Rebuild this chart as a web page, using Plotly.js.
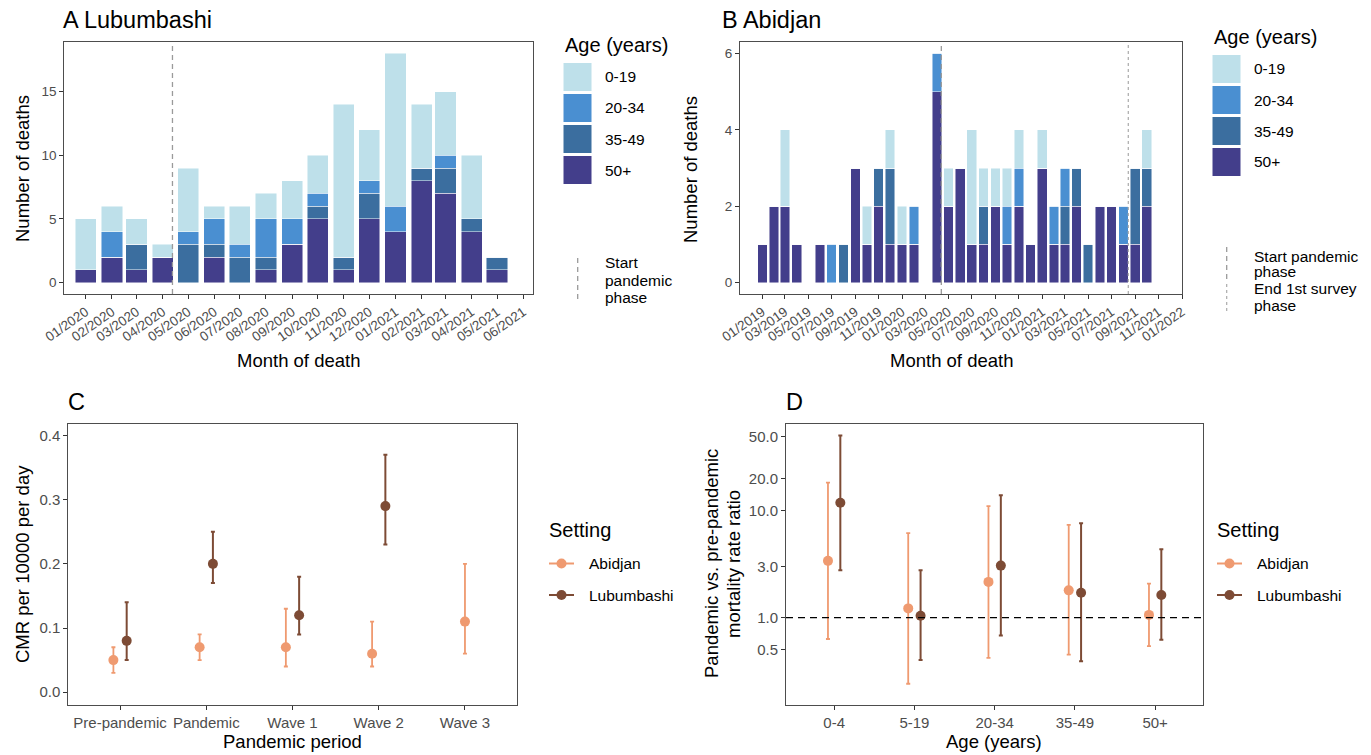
<!DOCTYPE html>
<html>
<head>
<meta charset="utf-8">
<script src="https://cdn.plot.ly/plotly-3.0.1.min.js"></script>
<style>html,body{margin:0;padding:0;background:#fff;}#chart{width:1371px;height:755px;}</style>
</head>
<body>
<div id="chart"></div>
<script>
// ---------- Data ----------
const ageGroups = ['0-19', '20-34', '35-49', '50+'];
const ageColors = ['#BEE0EA', '#4A8FD1', '#3B6E9F', '#433E8B'];

// Panel A: Lubumbashi monthly deaths
const monthsA = ['2020-01-01','2020-02-01','2020-03-01','2020-04-01','2020-05-01','2020-06-01','2020-07-01','2020-08-01','2020-09-01','2020-10-01','2020-11-01','2020-12-01','2021-01-01','2021-02-01','2021-03-01','2021-04-01','2021-05-01'];
const lub_0_19  = [4,2,2,1,5,1,3,2,3,3,12,4,12,5,5,5,0];
const lub_20_34 = [0,2,0,0,1,2,1,3,2,1,0,1,2,0,1,0,0];
const lub_35_49 = [0,0,2,0,3,1,2,1,0,1,1,2,0,1,2,1,1];
const lub_50p   = [1,2,1,2,0,2,0,1,3,5,1,5,4,8,7,4,1];

// Panel B: Abidjan monthly deaths
const monthsB = ['2019-01-01','2019-02-01','2019-03-01','2019-04-01','2019-05-01','2019-06-01','2019-07-01','2019-08-01','2019-09-01','2019-10-01','2019-11-01','2019-12-01','2020-01-01','2020-02-01','2020-03-01','2020-04-01','2020-05-01','2020-06-01','2020-07-01','2020-08-01','2020-09-01','2020-10-01','2020-11-01','2020-12-01','2021-01-01','2021-02-01','2021-03-01','2021-04-01','2021-05-01','2021-06-01','2021-07-01','2021-08-01','2021-09-01','2021-10-01'];
const abi_0_19  = [0,0,2,0,0,0,0,0,0,1,0,1,1,0,0,0,1,0,3,1,1,1,1,0,1,0,0,0,0,0,0,0,0,1];
const abi_20_34 = [0,0,0,0,0,0,1,0,0,0,0,0,0,1,0,1,0,0,0,0,0,1,1,0,0,1,1,0,0,0,0,1,0,0];
const abi_35_49 = [0,0,0,0,0,0,0,1,0,0,1,2,0,0,0,0,0,0,0,1,0,0,0,0,0,0,1,1,1,0,0,0,2,1];
const abi_50p   = [1,2,2,1,0,1,0,0,3,1,2,1,1,1,0,5,2,3,1,1,2,1,2,1,3,1,1,2,0,2,2,1,1,2];

const startPandemic = '2020-04-12 12:00';
const endSurvey1 = '2021-08-13 18:00';

// Panel C: CMR per 10000 per day
const periods = ['Pre-pandemic','Pandemic','Wave 1','Wave 2','Wave 3'];
const abiCMR    = [0.05, 0.07, 0.07, 0.06, 0.11];
const abiCMRlo  = [0.03, 0.05, 0.04, 0.04, 0.06];
const abiCMRhi  = [0.07, 0.09, 0.13, 0.11, 0.20];
const lubCMR    = [0.08, 0.20, 0.12, 0.29, null];
const lubCMRlo  = [0.05, 0.17, 0.09, 0.23, null];
const lubCMRhi  = [0.14, 0.25, 0.18, 0.37, null];

// Panel D: mortality rate ratios
const agesD = ['0-4','5-19','20-34','35-49','50+'];
const abiRR    = [3.4, 1.22, 2.16, 1.80, 1.06];
const abiRRlo  = [0.63, 0.24, 0.42, 0.45, 0.54];
const abiRRhi  = [18.4, 6.2, 11.1, 7.4, 2.08];
const lubRR    = [11.9, 1.04, 3.07, 1.71, 1.63];
const lubRRlo  = [2.78, 0.40, 0.68, 0.39, 0.62];
const lubRRhi  = [50.9, 2.78, 14.0, 7.66, 4.37];

const colAbi = '#EF9A70';
const colLub = '#7D4B35';

// ---------- Helpers ----------
const W = 1371, H = 755;
const PX = v => v / W;
const PY = v => 1 - v / H;
const FONT = 'Liberation Sans, Arial, sans-serif';
const DAY = 86400000;
const dodge = 0.077;

const traces = [];

function addBars(months, series, xa, ya) {
  // stacking order bottom -> top: 50+, 35-49, 20-34, 0-19
  const order = [3, 2, 1, 0];
  order.forEach(i => {
    traces.push({
      type: 'bar', x: months, y: series[i], xaxis: xa, yaxis: ya,
      width: 25 * DAY,
      marker: {color: ageColors[i], line: {color: 'rgba(255,255,255,0.8)', width: 0.6}},
      name: ageGroups[i], hoverinfo: 'x+y+name'
    });
  });
}
addBars(monthsA, [lub_0_19, lub_20_34, lub_35_49, lub_50p], 'x', 'y');
addBars(monthsB, [abi_0_19, abi_20_34, abi_35_49, abi_50p], 'x2', 'y2');

function addPoints(vals, lo, hi, xs, color, thick, xa, ya, name) {
  traces.push({
    type: 'scatter', mode: 'markers', x: xs, y: vals, xaxis: xa, yaxis: ya, name: name,
    marker: {color: color, size: 10},
    error_y: {type: 'data', symmetric: false,
      array: vals.map((v, i) => v == null ? null : hi[i] - v),
      arrayminus: vals.map((v, i) => v == null ? null : v - lo[i]),
      color: color, thickness: thick, width: 2}
  });
}
const xAbiC = periods.map((p, i) => lubCMR[i] == null ? i : i - dodge);
const xLubC = periods.map((p, i) => i + dodge);
addPoints(abiCMR, abiCMRlo, abiCMRhi, xAbiC, colAbi, 1.8, 'x3', 'y3', 'Abidjan');
addPoints(lubCMR, lubCMRlo, lubCMRhi, xLubC, colLub, 2, 'x3', 'y3', 'Lubumbashi');

const xAbiD = agesD.map((a, i) => i - dodge);
const xLubD = agesD.map((a, i) => i + dodge);
addPoints(abiRR, abiRRlo, abiRRhi, xAbiD, colAbi, 1.8, 'x4', 'y4', 'Abidjan');
addPoints(lubRR, lubRRlo, lubRRhi, xLubD, colLub, 2, 'x4', 'y4', 'Lubumbashi');

// ---------- Axes ----------
const axBase = {
  showline: true, mirror: true, linecolor: '#4D4D4D', linewidth: 1,
  ticks: 'outside', ticklen: 4, tickwidth: 1, tickcolor: '#333',
  showgrid: false, zeroline: false,
  tickfont: {family: FONT, size: 13.5, color: '#4D4D4D'}
};
const ax = (o) => Object.assign({}, axBase, o);

const layout = {
  width: W, height: H,
  margin: {l: 0, r: 0, t: 0, b: 0},
  paper_bgcolor: '#fff', plot_bgcolor: '#fff',
  showlegend: false, barmode: 'stack',
  font: {family: FONT, color: '#000'},
  xaxis: ax({domain: [PX(64.3), PX(532.7)], anchor: 'y', type: 'date',
    range: ['2019-12-06 17:00', '2021-06-12 03:00'],
    tick0: '2020-01-01', dtick: 'M1', tickformat: '%m/%Y', tickangle: -35}),
  yaxis: ax({domain: [PY(294), PY(42)], anchor: 'x', range: [-0.9, 18.9],
    tickvals: [0, 5, 10, 15]}),
  xaxis2: ax({domain: [PX(740), PX(1182)], anchor: 'y2', type: 'date',
    range: ['2018-11-03 19:00', '2022-01-01'],
    tick0: '2019-01-01', dtick: 'M2', tickformat: '%m/%Y', tickangle: -35}),
  yaxis2: ax({domain: [PY(294), PY(42)], anchor: 'x2', range: [-0.3, 6.3],
    tickvals: [0, 2, 4, 6]}),
  xaxis3: ax({domain: [PX(68.3), PX(516.7)], anchor: 'y3', range: [-0.6, 4.6],
    tickvals: [0, 1, 2, 3, 4], ticktext: periods, tickangle: 0,
    tickfont: {family: FONT, size: 15, color: '#4D4D4D'}}),
  yaxis3: ax({domain: [PY(705), PY(424)], anchor: 'x3', range: [-0.02, 0.418],
    tickvals: [0, 0.1, 0.2, 0.3, 0.4], tickformat: '.1f',
    tickfont: {family: FONT, size: 15, color: '#4D4D4D'}}),
  xaxis4: ax({domain: [PX(786), PX(1203.3)], anchor: 'y4', range: [-0.6, 4.6],
    tickvals: [0, 1, 2, 3, 4], ticktext: agesD, tickangle: 0,
    tickfont: {family: FONT, size: 15, color: '#4D4D4D'}}),
  yaxis4: ax({domain: [PY(705), PY(424)], anchor: 'x4', type: 'log', range: [-0.819, 1.814],
    tickvals: [0.5, 1, 3, 10, 20, 50], ticktext: [0.5, 1, 3, 10, 20, 50].map(v => v.toFixed(1)),
    tickfont: {family: FONT, size: 15, color: '#4D4D4D'}}),
  shapes: [],
  annotations: []
};

// Reference lines
layout.shapes.push({type: 'line', xref: 'x', yref: 'y domain', x0: startPandemic, x1: startPandemic, y0: 0, y1: 1,
  line: {color: '#9A9A9A', width: 1.3, dash: '5px,4px'}});
layout.shapes.push({type: 'line', xref: 'x2', yref: 'y2 domain', x0: startPandemic, x1: startPandemic, y0: 0, y1: 1,
  line: {color: '#9A9A9A', width: 1.3, dash: '5px,4px'}});
layout.shapes.push({type: 'line', xref: 'x2', yref: 'y2 domain', x0: endSurvey1, x1: endSurvey1, y0: 0, y1: 1,
  line: {color: '#AAAAAA', width: 1.2, dash: 'dot'}});
layout.shapes.push({type: 'line', xref: 'x4 domain', yref: 'y4', x0: 0, x1: 1, y0: 1, y1: 1,
  line: {color: '#000', width: 1.4, dash: '7px,5px'}});

// ---------- Text helpers ----------
function txt(text, x, y, size, opts) {
  layout.annotations.push(Object.assign({
    text: text, xref: 'paper', yref: 'paper', x: PX(x), y: PY(y),
    xanchor: 'left', yanchor: 'middle', showarrow: false,
    font: {family: FONT, size: size, color: '#000'}
  }, opts || {}));
}

// Panel titles
txt('A Lubumbashi', 61, 20, 23.5);
txt('B Abidjan', 720, 20, 23.5);
txt('C', 66, 402, 23.5);
txt('D', 784, 402, 23.5);

// Axis titles
txt('Number of deaths', 22, 169, 18.5, {xanchor: 'center', textangle: -90});
txt('Number of deaths', 690, 169, 18.5, {xanchor: 'center', textangle: -90});
txt('CMR per 10000 per day', 22, 564, 18.5, {xanchor: 'center', textangle: -90});
txt('Pandemic vs. pre-pandemic', 711, 564, 18.5, {xanchor: 'center', textangle: -90});
txt('mortality rate ratio', 733, 564, 18.5, {xanchor: 'center', textangle: -90});
txt('Month of death', 298, 360, 18.5, {xanchor: 'center'});
txt('Month of death', 951, 360, 18.5, {xanchor: 'center'});
txt('Pandemic period', 292, 741, 18.5, {xanchor: 'center'});
txt('Age (years)', 994, 741, 18.5, {xanchor: 'center'});

// Age legends
function ageLegend(x0, titleY, firstTop) {
  txt('Age (years)', x0, titleY, 20);
  ageGroups.forEach((g, i) => {
    const top = firstTop + i * 31;
    layout.shapes.push({type: 'rect', xref: 'paper', yref: 'paper',
      x0: PX(x0), x1: PX(x0 + 29), y0: PY(top + 29), y1: PY(top),
      fillcolor: ageColors[i], line: {color: '#fff', width: 1}});
    txt(g, x0 + 40, top + 14.5, 15.5);
  });
}
ageLegend(563, 45, 62.5);
ageLegend(1212, 37, 54.5);

// line legends
layout.shapes.push({type: 'line', xref: 'paper', yref: 'paper', x0: PX(577.7), x1: PX(577.7), y0: PY(258), y1: PY(303),
  line: {color: '#9A9A9A', width: 1.3, dash: '5px,4px'}});
txt('Start', 603, 262, 15.5);
txt('pandemic', 603, 280, 15.5);
txt('phase', 603, 297, 15.5);

layout.shapes.push({type: 'line', xref: 'paper', yref: 'paper', x0: PX(1226.7), x1: PX(1226.7), y0: PY(247), y1: PY(282),
  line: {color: '#9A9A9A', width: 1.3, dash: '5px,4px'}});
layout.shapes.push({type: 'line', xref: 'paper', yref: 'paper', x0: PX(1226.7), x1: PX(1226.7), y0: PY(284), y1: PY(311),
  line: {color: '#AAAAAA', width: 1.2, dash: 'dot'}});
txt('Start pandemic', 1252, 256, 15.5);
txt('phase', 1252, 272, 15.5);
txt('End 1st survey', 1252, 288, 15.5);
txt('phase', 1252, 305, 15.5);

// Setting legends
function settingLegend(x0) {
  txt('Setting', x0, 530, 20);
  [['Abidjan', colAbi, 563.5], ['Lubumbashi', colLub, 595]].forEach(([lab, col, yy]) => {
    layout.shapes.push({type: 'line', xref: 'paper', yref: 'paper', x0: PX(x0 + 2), x1: PX(x0 + 27), y0: PY(yy), y1: PY(yy),
      line: {color: col, width: 2}});
    layout.shapes.push({type: 'circle', xref: 'paper', yref: 'paper', x0: PX(x0 + 9.5), x1: PX(x0 + 19.5), y0: PY(yy + 5), y1: PY(yy - 5),
      fillcolor: col, line: {color: col, width: 0}});
    txt(lab, x0 + 40, yy, 15.5);
  });
}
settingLegend(547);
settingLegend(1215);

Plotly.newPlot('chart', traces, layout, {displayModeBar: false, staticPlot: true});
</script>
</body>
</html>
